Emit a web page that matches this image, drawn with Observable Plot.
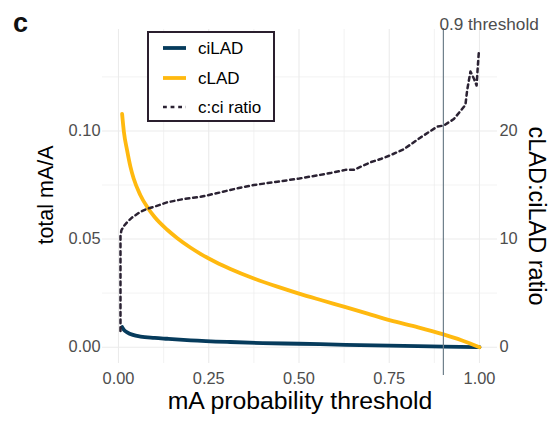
<!DOCTYPE html>
<html><head><meta charset="utf-8">
<script src="https://cdn.jsdelivr.net/npm/d3@7"></script>
<script src="https://cdn.jsdelivr.net/npm/@observablehq/plot@0.6"></script>
<style>
body{margin:0;background:#fff;font-family:"Liberation Sans",Arial,sans-serif;}
#wrap{position:relative;width:550px;height:421px;overflow:hidden;}
</style></head><body>
<div id="wrap"></div>
<script>
// ---- data ----
const xTicks = [0, 0.25, 0.5, 0.75, 1];
const xMinor = [0.125, 0.375, 0.625, 0.875];
const yTicks = [0, 0.05, 0.10];
const yMinor = [0.025, 0.075, 0.125];
const ratioTicks = [0, 10, 20];
const ratioPerUnit = 200; // ratio axis: 10 <-> 0.05 total mA/A
const threshold = [0.9];
const thresholdLabel = "0.9 threshold";

const cladX = [0.010,0.015,0.024,0.033,0.042,0.060,0.080,0.100,0.135,0.163,0.200,0.227,0.270,0.310,0.375,0.440,0.500,0.565,0.629,0.690,0.753,0.830,0.900,0.950,1.000];
const cladY = [0.1079,0.0995,0.0909,0.0835,0.0780,0.0705,0.0647,0.0602,0.0543,0.0504,0.0460,0.0432,0.0393,0.0362,0.0318,0.0280,0.0248,0.0216,0.0185,0.0155,0.0124,0.0092,0.0059,0.0032,0.0000];

const cildX = [0.010,0.015,0.024,0.040,0.061,0.100,0.135,0.200,0.310,0.400,0.500,0.629,0.750,0.900,1.000];
const cildY = [0.0093,0.0080,0.0069,0.0057,0.0049,0.0043,0.0039,0.0032,0.0024,0.0019,0.0016,0.0011,0.0007,0.0003,0.0000];

const ratioX = [0.0055,0.0055,0.0055,0.008,0.0147,0.025,0.038,0.060,0.0795,0.100,0.135,0.180,0.227,0.280,0.330,0.375,0.440,0.501,0.587,0.629,0.652,0.698,0.726,0.753,0.790,0.837,0.883,0.901,0.929,0.961,0.966,0.975,0.985,0.992,0.995,0.998];
const ratioV = [1.5,6,10.3,10.8,11.2,11.6,12.0,12.5,12.8,13.0,13.4,13.7,13.9,14.3,14.7,15.0,15.3,15.6,16.1,16.4,16.4,17.1,17.4,17.75,18.3,19.4,20.4,20.5,21.1,22.4,23.8,25.5,24.8,24.2,25.8,27.2];

const seriesNames = ["ciLAD", "cLAD", "c:ci ratio"];
const colors = {ciLAD: "#063b5c", cLAD: "#ffb90f", ratio: "#2b2233"};

// ---- build ----
const clad = cladX.map((x, i) => ({x, y: cladY[i]}));
const cild = cildX.map((x, i) => ({x, y: cildY[i]}));
const ratio = ratioX.map((x, i) => ({x, y: ratioV[i] / ratioPerUnit}));

const gridC = "#ebebeb", tickC = "#4d4d4d";
const fmt = d3.format(".2f");
const FONT = '"Liberation Sans", Arial, sans-serif';

const plot = Plot.plot({
  width: 550, height: 421,
  marginLeft: 102, marginRight: 53, marginTop: 29, marginBottom: 58,
  style: {fontFamily: FONT, background: "#fff"},
  x: {domain: [-0.0443, 1.0499]},
  y: {domain: [-0.00754, 0.1469]},
  marks: [
    Plot.gridY(yMinor, {stroke: gridC, strokeOpacity: 1, strokeWidth: 0.6}),
    Plot.gridX(xMinor, {stroke: gridC, strokeOpacity: 1, strokeWidth: 0.6}),
    Plot.gridY(yTicks, {stroke: gridC, strokeOpacity: 1, strokeWidth: 1.1}),
    Plot.gridX(xTicks, {stroke: gridC, strokeOpacity: 1, strokeWidth: 1.1}),
    Plot.axisY({anchor: "left", ticks: yTicks, tickFormat: fmt, tickSize: 0, tickPadding: 2, fontSize: 16.4, color: tickC, label: null}),
    Plot.axisY({anchor: "right", ticks: ratioTicks.map(r => r / ratioPerUnit), tickFormat: d => String(Math.round(d * ratioPerUnit)), tickSize: 0, tickPadding: 2, fontSize: 16.4, color: tickC, label: null}),
    Plot.axisX({ticks: xTicks, tickFormat: fmt, tickSize: 0, tickPadding: 9, fontSize: 16.4, color: tickC, label: null}),
    Plot.line(cild, {x: "x", y: "y", stroke: colors.ciLAD, strokeWidth: 3.8, curve: "monotone-x"}),
    Plot.line(clad, {x: "x", y: "y", stroke: colors.cLAD, strokeWidth: 3.8, curve: "monotone-x"}),
    Plot.line(ratio, {x: "x", y: "y", stroke: colors.ratio, strokeWidth: 2.5, strokeDasharray: "3.8,3.8", curve: "linear"}),
    Plot.ruleX(threshold, {stroke: "#6e7f8b", strokeWidth: 1.2, insetBottom: -12, insetTop: -1}),
    Plot.text(threshold, {x: d => d, text: () => thresholdLabel, frameAnchor: "top", dy: -12, dx: -4, textAnchor: "start", fontSize: 17.2, fill: tickC})
  ]
});
document.getElementById("wrap").appendChild(plot);

// ---- titles, panel tag, legend ----
const svg = d3.select(plot);
const txt = (x, y, s, size, opts = {}) => {
  const t = svg.append("text").attr("transform", `translate(${x},${y}) rotate(${opts.rot || 0})`)
    .attr("text-anchor", opts.anchor || "middle").attr("font-size", size)
    .attr("font-family", FONT)
    .attr("fill", opts.fill || "#000").text(s);
  if (opts.bold) t.attr("font-weight", "bold");
  return t;
};
txt(300, 409, "mA probability threshold", 24.8);
txt(53, 195, "total mA/A", 21.5, {rot: -90});
txt(529, 216, "cLAD:ciLAD ratio", 23.5, {rot: 90});
txt(13, 32, "c", 27, {anchor: "start", bold: true, fill: "#111"});

const lg = svg.append("g");
lg.append("rect").attr("x", 148).attr("y", 32).attr("width", 126).attr("height", 89)
  .attr("fill", "#fff").attr("stroke", "#2a1f2e").attr("stroke-width", 2);
const keys = [
  {name: seriesNames[0], color: colors.ciLAD, w: 3.8, dash: null, y: 48},
  {name: seriesNames[1], color: colors.cLAD, w: 3.8, dash: null, y: 78},
  {name: seriesNames[2], color: colors.ratio, w: 2.5, dash: "3.8,3.8", y: 107}
];
keys.forEach(k => {
  const l = lg.append("line").attr("x1", 163).attr("x2", 186).attr("y1", k.y).attr("y2", k.y)
    .attr("stroke", k.color).attr("stroke-width", k.w);
  if (k.dash) l.attr("stroke-dasharray", k.dash);
  lg.append("text").attr("x", 198).attr("y", k.y + 6).attr("font-size", 17)
    .attr("text-anchor", "start")
    .attr("font-family", FONT).attr("fill", "#000").text(k.name);
});
</script>
</body></html>
